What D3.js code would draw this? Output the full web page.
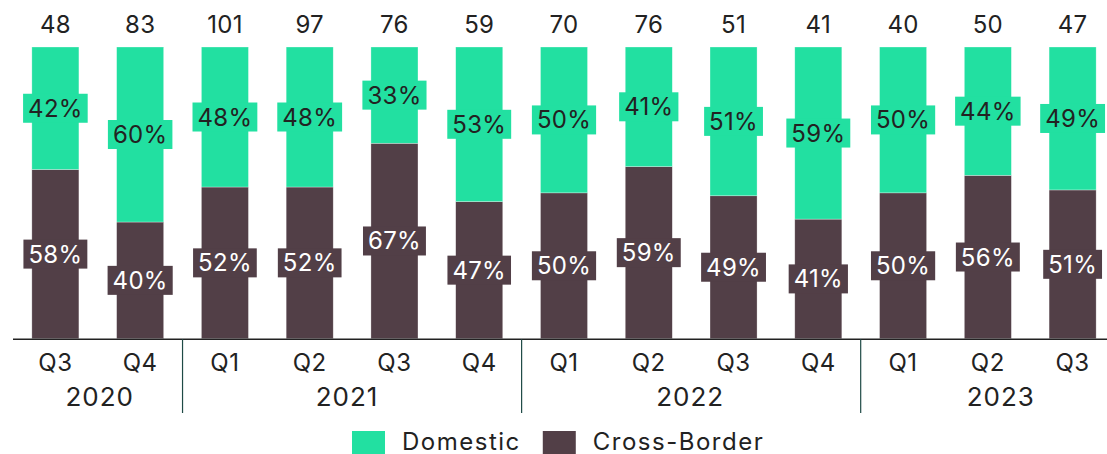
<!DOCTYPE html>
<html>
<head>
<meta charset="utf-8">
<script src="https://cdn.jsdelivr.net/npm/d3@7"></script>
<style>
  body { margin: 0; background: #fff; }
  svg { font-family: "Inter", "Open Sans", sans-serif; }
</style>
</head>
<body>
<svg id="chart"></svg>
<script>
// data
const quarters = ["Q3", "Q4", "Q1", "Q2", "Q3", "Q4", "Q1", "Q2", "Q3", "Q4", "Q1", "Q2", "Q3"];
const years = ["2020", "2020", "2021", "2021", "2021", "2021", "2022", "2022", "2022", "2022", "2023", "2023", "2023"];
const totals = [48, 83, 101, 97, 76, 59, 70, 76, 51, 41, 40, 50, 47];
const domestic = [42, 60, 48, 48, 33, 53, 50, 41, 51, 59, 50, 44, 49];
const crossBorder = [58, 40, 52, 52, 67, 47, 50, 59, 49, 41, 50, 56, 51];
const seriesNames = ["Domestic", "Cross-Border"];

const colors = {"Domestic": "#22e0a1", "Cross-Border": "#523f47"};
const labelColors = {"Domestic": "#222", "Cross-Border": "#fff"};

const W = 1107, H = 454;
const margin = {top: 47, bottom: 115};
const ids = quarters.map((q, i) => i);

const rows = ids.map(i => ({i: i, "Cross-Border": crossBorder[i], "Domestic": domestic[i]}));
const stack = d3.stack().keys(["Cross-Border", "Domestic"]);
const layers = stack(rows);

const x = d3.scaleBand()
    .domain(ids)
    .range([13, 1115])
    .paddingInner(0.445)
    .paddingOuter(0.2225);

const y = d3.scaleLinear()
    .domain([0, 100])
    .range([H - margin.bottom - 0.3, margin.top]);

const svg = d3.select("#chart")
    .attr("width", W)
    .attr("height", H);

const chart = svg.append("g");

// bars
const layerG = chart.selectAll("g.layer")
    .data(layers)
    .join("g")
    .attr("class", "layer")
    .attr("fill", d => colors[d.key]);

layerG.selectAll("rect")
    .data(d => d)
    .join("rect")
    .attr("x", d => x(d.data.i))
    .attr("width", x.bandwidth())
    .attr("y", d => y(d[1]))
    .attr("height", d => y(d[0]) - y(d[1]))
    .attr("stroke", "#ffffff")
    .attr("stroke-opacity", 0.5)
    .attr("stroke-width", 0.6);

// percent labels with colored boxes
layers.forEach(layer => {
    const g = chart.append("g").attr("class", "labels");
    layer.forEach(d => {
        const cx = x(d.data.i) + x.bandwidth() / 2;
        const cy = (y(d[0]) + y(d[1])) / 2;
        const t = g.append("text")
            .attr("x", cx)
            .attr("y", cy)
            .attr("text-anchor", "middle")
            .attr("dominant-baseline", "central")
            .attr("font-size", 24)
            .attr("letter-spacing", 0.3)
            .attr("fill", labelColors[layer.key])
            .text((d[1] - d[0]) + "%");
        const bb = t.node().getBBox();
        g.insert("rect", "text")
            .attr("x", cx - bb.width / 2 - 5)
            .attr("y", cy - 14.5)
            .attr("width", bb.width + 10)
            .attr("height", 29)
            .attr("fill", colors[layer.key]);
    });
});

// totals on top
chart.selectAll("text.total")
    .data(ids)
    .join("text")
    .attr("class", "total")
    .attr("x", i => x(i) + x.bandwidth() / 2)
    .attr("y", 33)
    .attr("text-anchor", "middle")
    .attr("font-size", 24)
    .attr("letter-spacing", 0.3)
    .attr("fill", "#222")
    .text(i => totals[i]);

// x axis
const axisY = y(0) + 0.5;
chart.append("line")
    .attr("x1", 13).attr("x2", W)
    .attr("y1", axisY).attr("y2", axisY)
    .attr("stroke", "#222").attr("stroke-width", 1.5);

chart.selectAll("text.quarter")
    .data(ids)
    .join("text")
    .attr("class", "quarter")
    .attr("x", i => x(i) + x.bandwidth() / 2)
    .attr("y", 362)
    .attr("text-anchor", "middle")
    .attr("dominant-baseline", "central")
    .attr("font-size", 24)
    .attr("letter-spacing", 0.5)
    .attr("fill", "#222")
    .text(i => quarters[i]);

// year groups
const groups = d3.groups(ids, i => years[i]);
const yearShift = [2, -5, -1, 13];
groups.forEach(([yr, idx], gi) => {
    const first = idx[0], last = idx[idx.length - 1];
    const left = x(first) - x.step() * x.paddingInner() / 2;
    const right = x(last) + x.bandwidth() + x.step() * x.paddingInner() / 2;
    chart.append("text")
        .attr("x", (Math.max(left, 13) + right) / 2 + yearShift[gi])
        .attr("y", 396)
        .attr("text-anchor", "middle")
        .attr("dominant-baseline", "central")
        .attr("font-size", 26)
        .attr("letter-spacing", 1)
        .attr("fill", "#222")
        .text(yr);
    if (gi > 0) {
        chart.append("line")
            .attr("x1", left).attr("x2", left)
            .attr("y1", axisY).attr("y2", 413)
            .attr("stroke", "#1f4a46").attr("stroke-width", 1.2);
    }
});

// legend
const legend = svg.append("g").attr("transform", "translate(352,431)");
let lx = 0;
seriesNames.forEach(name => {
    legend.append("rect")
        .attr("x", lx).attr("y", 0)
        .attr("width", 33).attr("height", 23)
        .attr("fill", colors[name]);
    const t = legend.append("text")
        .attr("x", lx + 50).attr("y", 10)
        .attr("dominant-baseline", "central")
        .attr("font-size", 24)
        .attr("letter-spacing", 1.5)
        .attr("fill", "#222")
        .text(name);
    lx += 50 + t.node().getComputedTextLength() + 22;
});
</script>
</body>
</html>
